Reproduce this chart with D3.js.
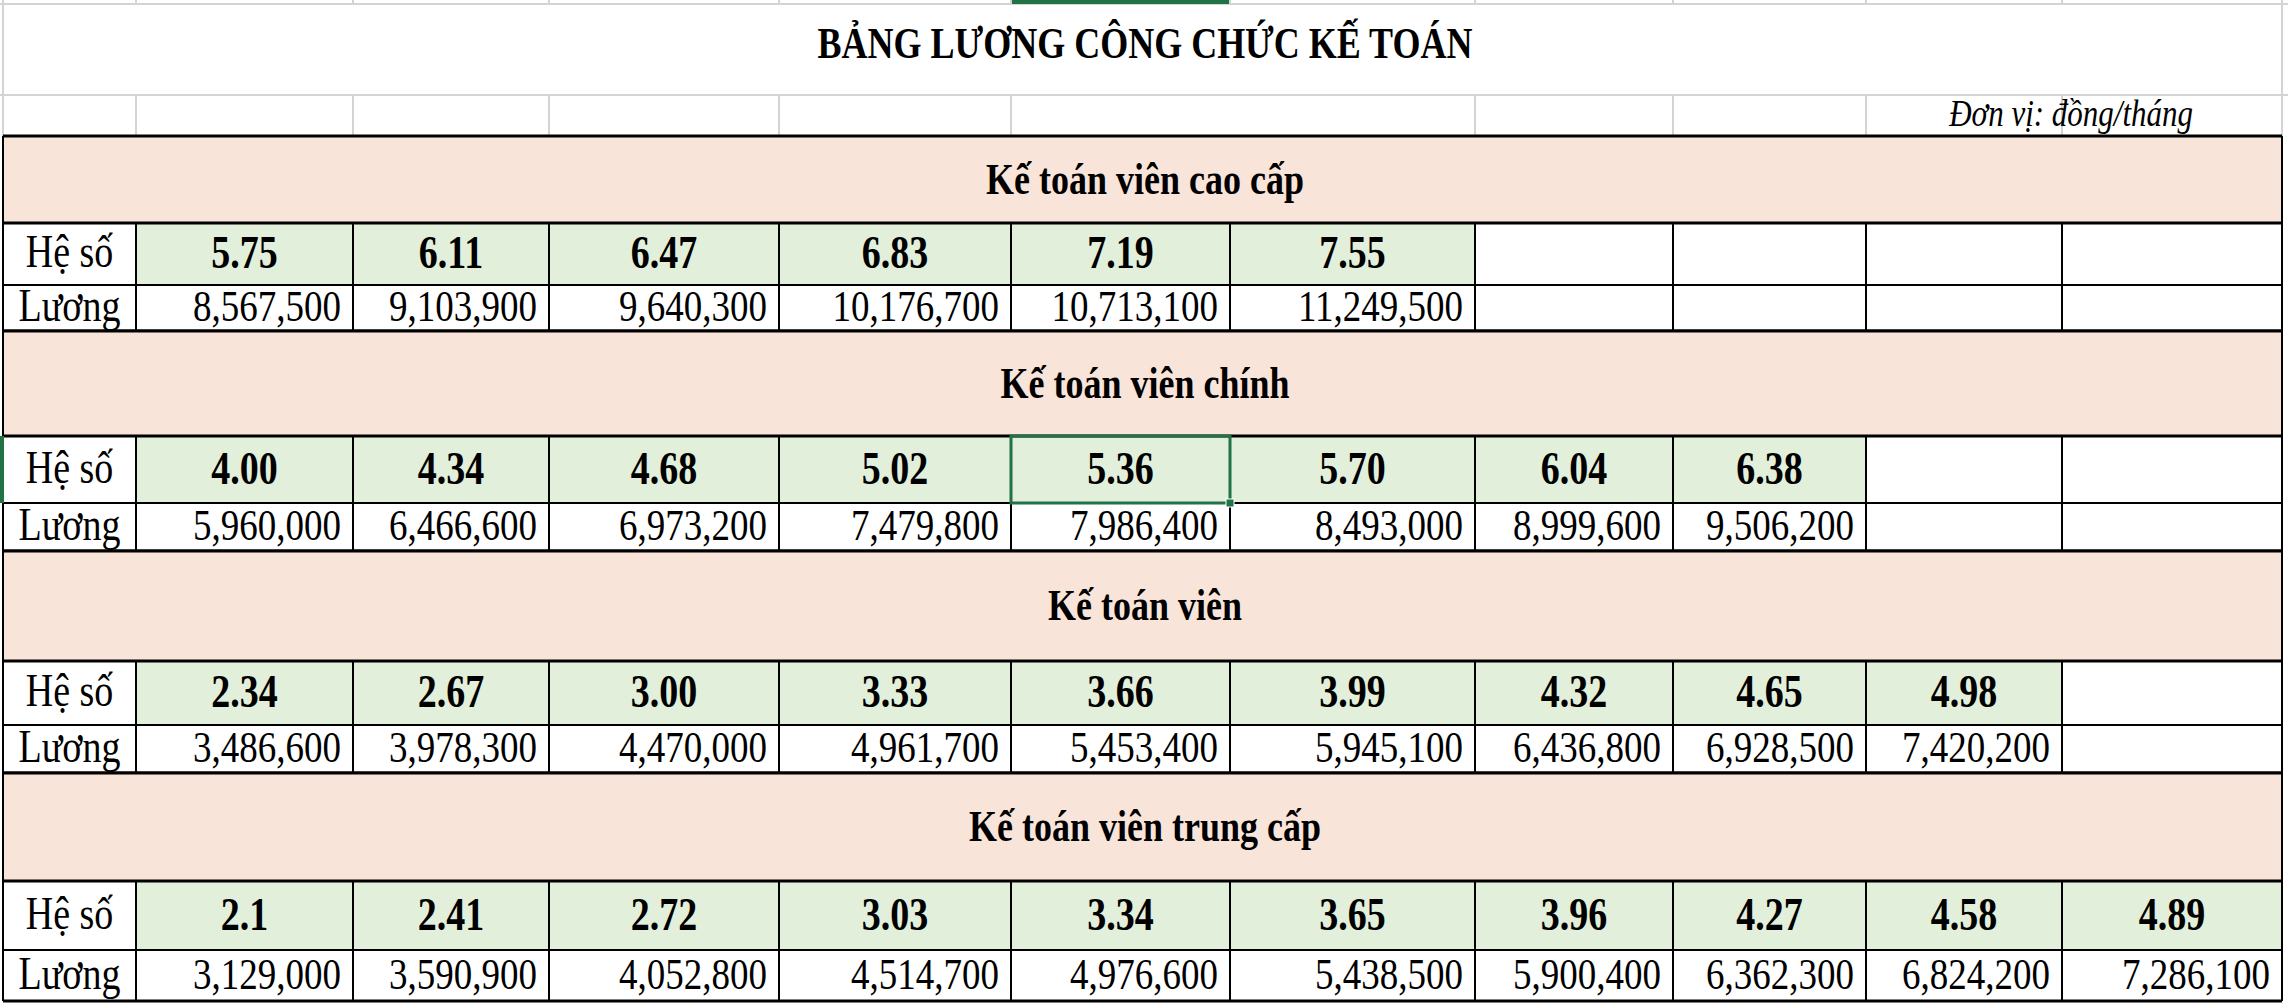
<!DOCTYPE html>
<html><head><meta charset="utf-8">
<script src="https://cdn.jsdelivr.net/npm/d3@7"></script>
<style>body{margin:0;background:#fff}svg{display:block}</style></head>
<body><svg id="c" width="2288" height="1008"></svg>
<script>
const title = "BẢNG LƯƠNG CÔNG CHỨC KẾ TOÁN";
const unit = "Đơn vị: đồng/tháng";
const categories = ["Kế toán viên cao cấp","Kế toán viên chính","Kế toán viên","Kế toán viên trung cấp"];
const heSo1 = ["5.75","6.11","6.47","6.83","7.19","7.55"];
const luong1 = [8567500,9103900,9640300,10176700,10713100,11249500];
const heSo2 = ["4.00","4.34","4.68","5.02","5.36","5.70","6.04","6.38"];
const luong2 = [5960000,6466600,6973200,7479800,7986400,8493000,8999600,9506200];
const heSo3 = ["2.34","2.67","3.00","3.33","3.66","3.99","4.32","4.65","4.98"];
const luong3 = [3486600,3978300,4470000,4961700,5453400,5945100,6436800,6928500,7420200];
const heSo4 = ["2.1","2.41","2.72","3.03","3.34","3.65","3.96","4.27","4.58","4.89"];
const luong4 = [3129000,3590900,4052800,4514700,4976600,5438500,5900400,6362300,6824200,7286100];
const rowLabels = ["Hệ số","Lương"];

const groups = [[heSo1,luong1],[heSo2,luong2],[heSo3,luong3],[heSo4,luong4]];
const colEdges = [3,136,353,549,779,1011,1230,1475,1673,1866,2062,2282];
const groupRows = [[136,223,285,331],[331,436,503,551],[551,661,725,773],[773,881,950,1001]];
const svg = d3.select("#c");
const fmt = d3.format(",");
const F = "'Liberation Serif','Times New Roman',serif";
const grey = "#d4d4d4";
const SY = 1.22;
function txt(x,y,s,size,anchor,opts={}){
  const t = svg.append("text").attr("transform",`translate(${x},${y}) scale(1,${SY})`)
    .attr("text-anchor",anchor).attr("font-family",F).attr("font-size",size).text(s);
  if(opts.bold) t.attr("font-weight","bold");
  if(opts.italic) t.attr("font-style","italic");
  return t;
}

svg.append("line").attr("x1",0).attr("x2",2288).attr("y1",4).attr("y2",4).attr("stroke",grey).attr("stroke-width",2);
svg.append("line").attr("x1",0).attr("x2",2288).attr("y1",95).attr("y2",95).attr("stroke",grey).attr("stroke-width",2);
svg.append("line").attr("x1",3).attr("x2",3).attr("y1",0).attr("y2",136).attr("stroke",grey).attr("stroke-width",2);
svg.append("line").attr("x1",2282).attr("x2",2282).attr("y1",0).attr("y2",136).attr("stroke",grey).attr("stroke-width",2);
svg.append("rect").attr("x",1011).attr("y",0).attr("width",219).attr("height",4).attr("fill","#217346");
colEdges.slice(1,-1).forEach(x=>{
  if(x!==1230) svg.append("line").attr("x1",x).attr("x2",x).attr("y1",95).attr("y2",136).attr("stroke",grey).attr("stroke-width",2);
  svg.append("line").attr("x1",x).attr("x2",x).attr("y1",0).attr("y2",4).attr("stroke",grey).attr("stroke-width",2);
});
txt(1145,58,title,36,"middle",{bold:true});
txt(2193,126,unit,31,"end",{italic:true});

groups.forEach((g,gi)=>{
  const [y0,y1,y2,y3] = groupRows[gi];
  svg.append("rect").attr("x",3).attr("y",y0).attr("width",2279).attr("height",y1-y0).attr("fill","#f8e4d8");
  txt(1145,(y0+y1)/2+14,categories[gi],36,"middle",{bold:true});
  const [hs,lg] = g;
  hs.forEach((v,i)=>{
    svg.append("rect").attr("x",colEdges[i+1]).attr("y",y1).attr("width",colEdges[i+2]-colEdges[i+1]).attr("height",y2-y1).attr("fill","#e2efda");
  });
  [[y1,y2],[y2,y3]].forEach(([a,b],ri)=>{
    txt((colEdges[0]+colEdges[1])/2,(a+b)/2+13,rowLabels[ri],38,"middle");
  });
  hs.forEach((v,i)=>{
    txt((colEdges[i+1]+colEdges[i+2])/2,(y1+y2)/2+14,v,38,"middle",{bold:true});
  });
  lg.forEach((v,i)=>{
    txt(colEdges[i+2]-12,(y2+y3)/2+13,fmt(v),37,"end");
  });
  [y0,y1,y2,y3].forEach((y,k)=>svg.append("line").attr("x1",3).attr("x2",2282).attr("y1",y).attr("y2",y).attr("stroke","#000").attr("stroke-width",k===2?2:3));
  colEdges.forEach((x,k)=>{
    if(k===0||k===colEdges.length-1) svg.append("line").attr("x1",x).attr("x2",x).attr("y1",y0).attr("y2",y3).attr("stroke","#000").attr("stroke-width",2);
    else svg.append("line").attr("x1",x).attr("x2",x).attr("y1",y1).attr("y2",y3).attr("stroke","#000").attr("stroke-width",2);
  });
});
svg.append("rect").attr("x",colEdges[5]).attr("y",groupRows[1][1]).attr("width",colEdges[6]-colEdges[5]).attr("height",groupRows[1][2]-groupRows[1][1])
  .attr("fill","none").attr("stroke","#217346").attr("stroke-width",3);
svg.append("rect").attr("x",colEdges[6]-4).attr("y",groupRows[1][2]-4).attr("width",8).attr("height",8).attr("fill","#217346").attr("stroke","#fff");
svg.append("rect").attr("x",0).attr("y",groupRows[1][1]).attr("width",4).attr("height",groupRows[1][2]-groupRows[1][1]).attr("fill","#217346");
</script></body></html>
